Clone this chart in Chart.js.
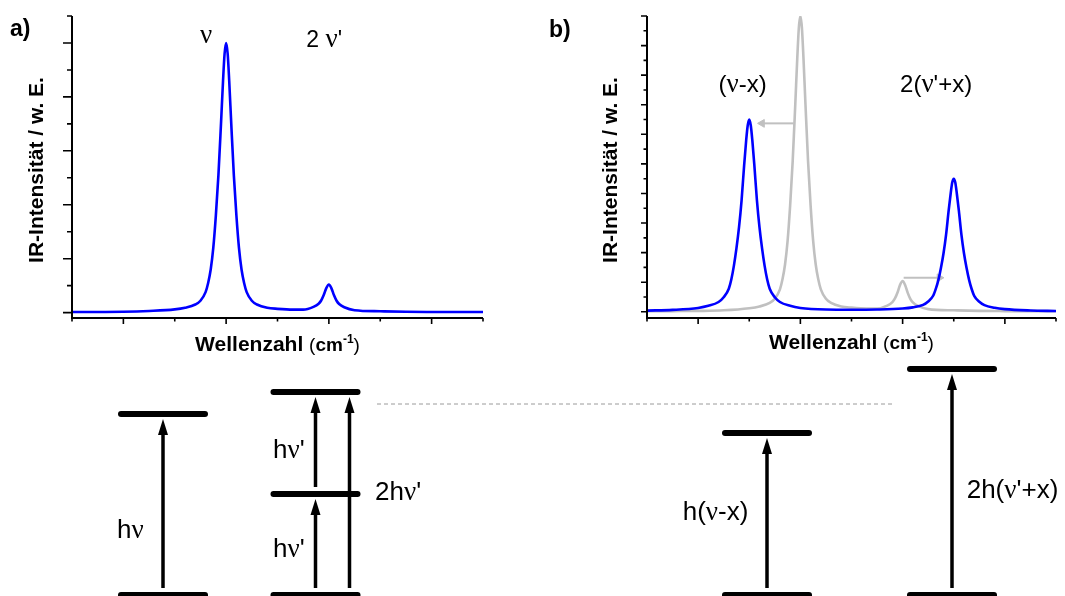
<!DOCTYPE html>
<html>
<head>
<meta charset="utf-8">
<script src="https://cdn.jsdelivr.net/npm/chart.js@4.4.1/dist/chart.umd.min.js"></script>
<style>
  html, body { margin: 0; padding: 0; background: #fff; }
  body { width: 1065px; height: 596px; position: relative; overflow: hidden; }
  canvas { position: absolute; }
</style>
</head>
<body>
<canvas id="chartA" width="532" height="360" style="left:0;top:0"></canvas>
<canvas id="chartB" width="533" height="360" style="left:532px;top:0"></canvas>
<canvas id="levels" width="1065" height="241" style="left:0;top:355px"></canvas>
<script>
// ---- werte ----
// a) gemessenes spektrum
const waveA = [0, 0.5, 1, 1.5, 2, 2.2, 2.4, 2.5, 2.6, 2.65, 2.7, 2.75, 2.8, 2.85, 2.9, 2.94, 2.97, 3, 3.03, 3.06, 3.1, 3.15, 3.2, 3.25, 3.3, 3.35, 3.4, 3.5, 3.6, 3.8, 4, 4.3, 4.5, 4.7, 4.8, 4.85, 4.9, 4.95, 5, 5.05, 5.1, 5.15, 5.2, 5.3, 5.5, 6, 6.5, 7, 8];
const intensA = [0.01, 0.012, 0.015, 0.03, 0.06, 0.09, 0.15, 0.22, 0.38, 0.55, 0.8, 1.2, 1.8, 2.55, 3.5, 4.3, 4.8, 5.0, 4.8, 4.3, 3.5, 2.55, 1.8, 1.2, 0.8, 0.55, 0.38, 0.22, 0.15, 0.09, 0.07, 0.055, 0.055, 0.107, 0.165, 0.225, 0.325, 0.455, 0.52, 0.45, 0.32, 0.22, 0.16, 0.1, 0.045, 0.025, 0.015, 0.012, 0.01];

// b) ursprungliches spektrum (grau) und verschobenes (blau)
const originalB = [0.02, 0.024, 0.03, 0.05, 0.12, 0.18, 0.3, 0.44, 0.76, 1.1, 1.6, 2.4, 3.6, 5.1, 7.0, 8.6, 9.6, 10, 9.6, 8.6, 7.0, 5.1, 3.6, 2.4, 1.6, 1.1, 0.76, 0.44, 0.3, 0.18, 0.14, 0.11, 0.11, 0.21, 0.33, 0.45, 0.65, 0.91, 1.04, 0.9, 0.64, 0.44, 0.32, 0.2, 0.09, 0.05, 0.03, 0.024, 0.02];
const waveB = [0, 0.5, 1, 1.2, 1.4, 1.5, 1.6, 1.65, 1.7, 1.75, 1.8, 1.85, 1.9, 1.94, 1.97, 2, 2.03, 2.06, 2.1, 2.15, 2.2, 2.25, 2.3, 2.35, 2.4, 2.5, 2.6, 2.8, 3, 3.5, 4, 4.5, 5, 5.2, 5.4, 5.5, 5.6, 5.65, 5.7, 5.75, 5.8, 5.85, 5.9, 5.94, 5.97, 6, 6.03, 6.06, 6.1, 6.15, 6.2, 6.25, 6.3, 6.35, 6.4, 6.5, 6.6, 6.8, 7, 7.5, 8];
const shiftedB = [0.04, 0.065, 0.13, 0.2, 0.33, 0.49, 0.78, 1.1, 1.56, 2.15, 2.86, 3.77, 4.95, 5.8, 6.3, 6.5, 6.3, 5.8, 4.95, 3.77, 2.86, 2.15, 1.56, 1.1, 0.78, 0.49, 0.33, 0.2, 0.13, 0.075, 0.067, 0.075, 0.11, 0.15, 0.235, 0.35, 0.55, 0.78, 1.08, 1.49, 1.98, 2.61, 3.42, 4.0, 4.37, 4.5, 4.37, 4.0, 3.42, 2.61, 1.98, 1.49, 1.08, 0.77, 0.54, 0.34, 0.225, 0.135, 0.09, 0.045, 0.027];
// verschiebungspfeile: start, ende, hoehe
const shiftFrom = [2.87, 5.02];
const shiftTo = [2.25, 5.72];
const shiftLevel = [6.37, 1.15];

// achsenstriche
const xMajorTicks = [1, 3, 5, 7];
const xMinorTicks = [0, 2, 4, 6, 8];
const yMajorTicksA = [0, 1, 2, 3, 4, 5];
const yMinorTicksA = [0.5, 1.5, 2.5, 3.5, 4.5, 5.5];
const yMajorTicksB = [0, 1, 2, 3, 4, 5, 6, 7, 8, 9, 10];
const yMinorTicksB = [0.5, 1.5, 2.5, 3.5, 4.5, 5.5, 6.5, 7.5, 8.5, 9.5];

// energieschema: niveaus je spalte
const levelColumn = [0, 0, 1, 1, 1, 2, 2, 3, 3];
const levelEnergy = [0, 1.81, 0, 1.01, 2.03, 0, 1.62, 0, 2.26];
const arrowColumn = [0, 1, 1, 1, 2, 3];
const arrowTrack = [0, 0, 0, 1, 0, 0];
const arrowFrom = [0, 0, 1.01, 0, 0, 0];
const arrowTo = [1.81, 1.01, 2.03, 2.03, 1.62, 2.26];
const referenceEnergy = 1.91;
const energyLabels = ['hν', "hν'", "hν'", "2hν'", 'h(ν-x)', "2h(ν'+x)"];

// ---- layout ----
const columnCenter = [163, 315.5, 767, 952];
const levelHalf = 42;
const trackOffset = 34;
const SANS = '"Liberation Sans", Arial, sans-serif';
const SERIF = '"Liberation Serif", "Times New Roman", serif';

const pts = (xs, ys) => xs.map((x, i) => ({ x: x, y: ys[i] }));

// text mit griechischem nu in serifenschrift
function drawMixed(ctx, text, x, y, size, nuSize, weight) {
    ctx.textAlign = 'left';
    ctx.textBaseline = 'alphabetic';
    let cx = x;
    for (const ch of text) {
        ctx.font = ch === 'ν' ? `${nuSize}px ${SERIF}` : `${weight} ${size}px ${SANS}`;
        ctx.fillText(ch, cx, y);
        cx += ctx.measureText(ch).width;
    }
}

// achsen, striche, titel und beschriftung der spektren
const framePlugin = {
    id: 'frame',
    afterDraw(chart, args, o) {
        const { ctx, chartArea: a, scales: { x, y } } = chart;
        ctx.save();
        ctx.strokeStyle = '#000';
        ctx.fillStyle = '#000';
        ctx.lineWidth = 2;
        ctx.beginPath();
        ctx.moveTo(a.left, a.top);
        ctx.lineTo(a.left, a.bottom);
        ctx.lineTo(a.right, a.bottom);
        ctx.stroke();

        ctx.lineWidth = 1.6;
        ctx.beginPath();
        o.yMajor.forEach(v => { const p = y.getPixelForValue(v); ctx.moveTo(a.left, p); ctx.lineTo(a.left - o.yMajorLen, p); });
        o.yMinor.forEach(v => { const p = y.getPixelForValue(v); ctx.moveTo(a.left, p); ctx.lineTo(a.left - o.yMinorLen, p); });
        xMajorTicks.forEach(v => { const p = x.getPixelForValue(v); ctx.moveTo(p, a.bottom); ctx.lineTo(p, a.bottom + 6); });
        xMinorTicks.forEach(v => { const p = x.getPixelForValue(v); ctx.moveTo(p, a.bottom); ctx.lineTo(p, a.bottom + 3.5); });
        ctx.stroke();

        // y titel
        ctx.save();
        ctx.translate(o.yTitle[0], o.yTitle[1]);
        ctx.rotate(-Math.PI / 2);
        ctx.font = `bold 21px ${SANS}`;
        ctx.textAlign = 'center';
        ctx.textBaseline = 'alphabetic';
        ctx.fillText('IR-Intensität / w. E.', 0, 0);
        ctx.restore();

        // x titel mit hochgestelltem -1
        const parts = [
            ['Wellenzahl ', `bold 21px ${SANS}`, 0],
            ['(', `19px ${SANS}`, 0],
            ['cm', `bold 19px ${SANS}`, 0],
            ['-1', `bold 12px ${SANS}`, -8],
            [')', `19px ${SANS}`, 0]
        ];
        let total = 0;
        parts.forEach(p => { ctx.font = p[1]; p.push(ctx.measureText(p[0]).width); total += p[3]; });
        let cx = (a.left + a.right) / 2 - total / 2;
        ctx.textAlign = 'left';
        ctx.textBaseline = 'alphabetic';
        parts.forEach(p => { ctx.font = p[1]; ctx.fillText(p[0], cx, o.xTitleY + p[2]); cx += p[3]; });

        // panel
        ctx.font = `bold 23px ${SANS}`;
        ctx.fillText(o.panel[0], o.panel[1], o.panel[2]);

        // peakbeschriftung
        o.labels.forEach((t, i) => {
            const pos = o.labelPos[i];
            drawMixed(ctx, t, x.getPixelForValue(pos[0]), y.getPixelForValue(pos[1]), o.labelSize, 27, 'normal');
        });
        ctx.restore();
    }
};

const baseOptions = (yMin, yMax, pad, frame) => ({
    responsive: false,
    animation: false,
    devicePixelRatio: 1,
    events: [],
    layout: { padding: pad },
    scales: {
        x: { type: 'linear', min: 0, max: 8, display: false },
        y: { type: 'linear', min: yMin, max: yMax, display: false }
    },
    elements: { point: { radius: 0 } },
    plugins: { legend: { display: false }, tooltip: { enabled: false }, frame: frame }
});

// a)
new Chart(document.getElementById('chartA'), {
    type: 'line',
    data: {
        datasets: [{
            data: pts(waveA, intensA),
            borderColor: '#0000ff',
            borderWidth: 2.6,
            cubicInterpolationMode: 'monotone'
        }]
    },
    options: baseOptions(-0.1, 5.5, { left: 72, right: 49, top: 16, bottom: 42 }, {
        yMajor: yMajorTicksA, yMinor: yMinorTicksA, yMajorLen: 9, yMinorLen: 5,
        yTitle: [42.5, 170], xTitleY: 351,
        panel: ['a)', 10, 36],
        labels: ['ν', "2 ν'"], labelPos: [[2.49, 5.0], [4.56, 4.93]], labelSize: 23
    }),
    plugins: [framePlugin]
});

// b)
const grey = '#c0c0c0';
const arrowSets = shiftFrom.map((f, i) => ({
    data: [{ x: f, y: shiftLevel[i] }, { x: shiftTo[i], y: shiftLevel[i] }],
    borderColor: grey,
    borderWidth: 2,
    pointRadius: [0, 4.5],
    pointStyle: 'triangle',
    pointRotation: shiftTo[i] < f ? -90 : 90,
    pointBackgroundColor: grey,
    pointBorderColor: grey,
    pointBorderWidth: 1,
    order: 2
}));
new Chart(document.getElementById('chartB'), {
    type: 'line',
    data: {
        datasets: [{
            data: pts(waveB, shiftedB),
            borderColor: '#0000ff',
            borderWidth: 2.6,
            cubicInterpolationMode: 'monotone',
            order: 0
        }, {
            data: pts(waveA, originalB),
            borderColor: grey,
            borderWidth: 2.6,
            cubicInterpolationMode: 'monotone',
            order: 1
        }].concat(arrowSets)
    },
    options: baseOptions(-0.21, 10, { left: 115, right: 9, top: 16, bottom: 42 }, {
        yMajor: yMajorTicksB, yMinor: yMinorTicksB, yMajorLen: 6, yMinorLen: 3.5,
        yTitle: [85, 170], xTitleY: 348.5,
        panel: ['b)', 17, 37],
        labels: ['(ν-x)', "2(ν'+x)"], labelPos: [[1.4, 7.43], [4.95, 7.43]], labelSize: 24
    }),
    plugins: [framePlugin]
});

// energieschema
const levelSets = levelEnergy.map((e, i) => ({
    data: [{ x: columnCenter[levelColumn[i]] - levelHalf, y: e }, { x: columnCenter[levelColumn[i]] + levelHalf, y: e }],
    borderColor: '#000',
    borderWidth: 6,
    borderCapStyle: 'round',
    clip: false
}));
levelSets.push({
    data: [{ x: 377, y: referenceEnergy }, { x: 893, y: referenceEnergy }],
    borderColor: '#9a9a9a',
    borderWidth: 1,
    borderDash: [4, 3]
});

const labelPlace = [[117, 0.57], [273, 1.37], [273, 0.38], [375, 0.95], [682.7, 0.755], [966.7, 0.975]];

const transitionPlugin = {
    id: 'transitions',
    afterDatasetsDraw(chart) {
        const { ctx, scales: { x, y } } = chart;
        ctx.save();
        ctx.fillStyle = '#000';
        ctx.strokeStyle = '#000';
        arrowTo.forEach((to, i) => {
            const px = x.getPixelForValue(columnCenter[arrowColumn[i]] + arrowTrack[i] * trackOffset);
            const y0 = y.getPixelForValue(arrowFrom[i]) - 7;
            const tip = y.getPixelForValue(to) + 5;
            ctx.lineWidth = 3.5;
            ctx.beginPath();
            ctx.moveTo(px, y0);
            ctx.lineTo(px, tip + 12);
            ctx.stroke();
            ctx.beginPath();
            ctx.moveTo(px, tip);
            ctx.lineTo(px - 5, tip + 16);
            ctx.lineTo(px + 5, tip + 16);
            ctx.closePath();
            ctx.fill();
        });
        energyLabels.forEach((t, i) => {
            drawMixed(ctx, t, x.getPixelForValue(labelPlace[i][0]), y.getPixelForValue(labelPlace[i][1]), 26, 27, 'normal');
        });
        ctx.restore();
    }
};

new Chart(document.getElementById('levels'), {
    type: 'line',
    data: { datasets: levelSets },
    options: {
        responsive: false,
        animation: false,
        devicePixelRatio: 1,
        events: [],
        layout: { padding: 0 },
        scales: {
            x: { type: 'linear', min: 0, max: 1065, display: false },
            y: { type: 'linear', min: -0.01, max: 2.40, display: false }
        },
        elements: { point: { radius: 0 } },
        plugins: { legend: { display: false }, tooltip: { enabled: false } }
    },
    plugins: [transitionPlugin]
});
</script>
</body>
</html>
